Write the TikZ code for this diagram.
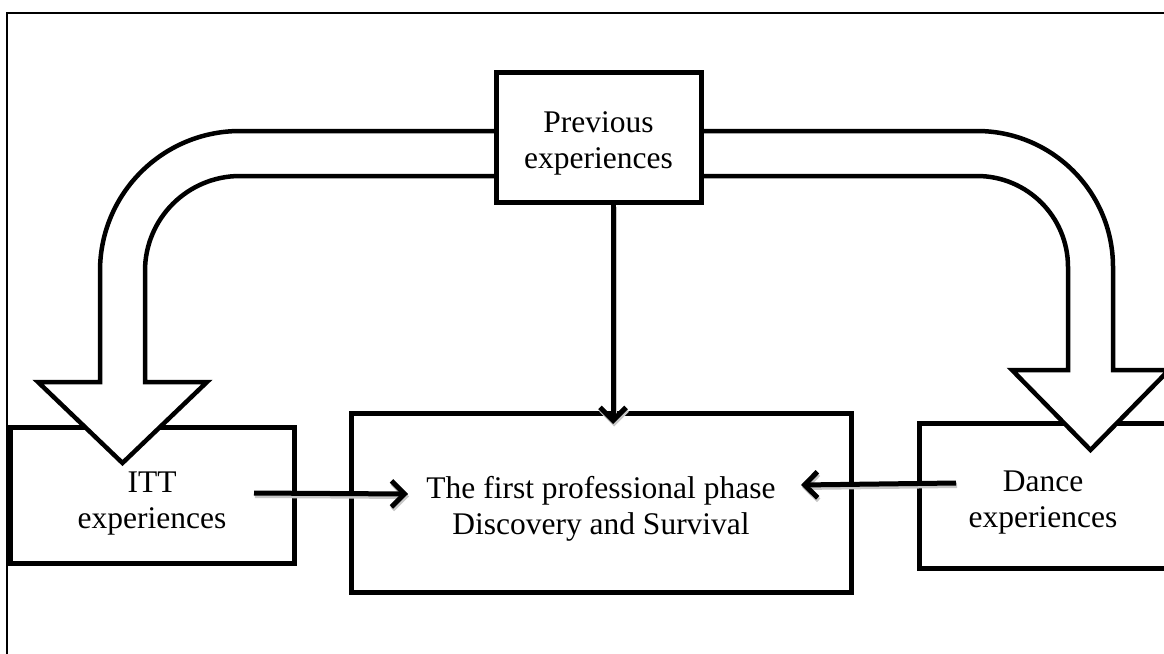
\documentclass[tikz,border=0pt]{standalone}
\usepackage{fontspec}
\setmainfont{Liberation Serif}
\usetikzlibrary{arrows.meta}
\begin{document}
\begin{tikzpicture}[x=1pt,y=1pt,
  box/.style={draw, line width=5pt, fill=white, inner sep=0pt},
  txt/.style={inner sep=0pt, align=center, font=\fontsize{31.5}{36}\selectfont},
  band/.style={draw, line width=4.5pt, fill=white, line join=miter},
  conn/.style={line width=5pt, -{Straight Barb[length=13pt,width=26pt]},
               preaction={draw=black!22, line width=5pt,
                          transform canvas={xshift=1pt,yshift=-2.5pt}}},
  frame/.style={draw, line width=2pt}]
\useasboundingbox (0,0) rectangle (1164,-653);
\clip (0,0) rectangle (1164,-653);
% outer frame
\draw[frame] (7,-680) -- (7,-13) -- (1190,-13);
% side boxes
\node[box, minimum width=284pt, minimum height=136pt] (itt) at (152,-495) {};
\node[txt] at ([yshift=-9pt]itt.center) {ITT\\experiences};
\node[box, minimum width=248pt, minimum height=145pt] (dance) at (1043,-495.5) {};
\node[txt] at ([yshift=-7pt]dance.center) {Dance\\experiences};
% top box anchors
\path (598.5,-137) node[minimum width=205pt, minimum height=130pt, inner sep=0pt] (prev) {};
% bands
\path[band] ([yshift=6pt]prev.west) -- (240,-131)
  arc[start angle=90,end angle=180,radius=140] -- (100,-382) -- (38,-382)
  -- (122.5,-463) -- (207,-382) -- (145,-382) -- (145,-271)
  arc[start angle=180,end angle=90,radius=95] -- ([yshift=-39pt]prev.west);
\path[band] ([yshift=6pt]prev.east) -- (977,-131)
  arc[start angle=90,end angle=0,radius=136] -- (1113,-370) -- (1169,-370)
  -- (1090.5,-450) -- (1012,-370) -- (1068,-370) -- (1068,-267)
  arc[start angle=0,end angle=90,radius=91] -- ([yshift=-39pt]prev.east);
\node[box, minimum width=205pt, minimum height=130pt] (prevbox) at (prev.center) {};
\node[txt] at ([yshift=-6pt]prevbox.center) {Previous\\experiences};
% main box
\node[box, minimum width=500pt, minimum height=179pt] (main) at (601,-502.5) {};
\node[txt] at ([yshift=-6pt]main.center) {The first professional phase\\Discovery and Survival};
% connectors
\coordinate (t1) at (613,-424);
\coordinate (s2) at (254,-493);
\coordinate (t2) at (408,-494);
\coordinate (s3) at (956,-483);
\coordinate (t3) at (801,-485);
\draw[conn] (prevbox.south -| t1) -- (t1);
\draw[conn] (s2) -- (t2);
\draw[conn] (s3) -- (t3);
\end{tikzpicture}
\end{document}
